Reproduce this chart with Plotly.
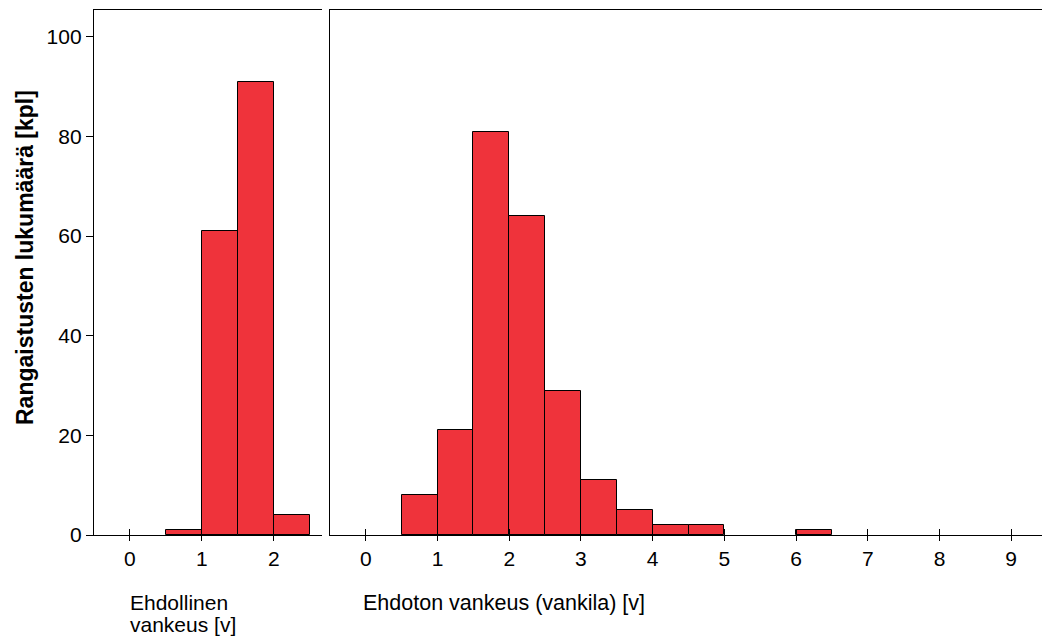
import plotly.graph_objects as go

# Data: histogram bins (left edge, years) and counts
cond_bin_left = [0.5, 1.0, 1.5, 2.0]
cond_counts = [1, 61, 91, 4]

uncond_bin_left = [0.5, 1.0, 1.5, 2.0, 2.5, 3.0, 3.5, 4.0, 4.5, 6.0]
uncond_counts = [8, 21, 81, 64, 29, 11, 5, 2, 2, 1]

bin_width = 0.5

cond_ticks = [0, 1, 2]
uncond_ticks = [0, 1, 2, 3, 4, 5, 6, 7, 8, 9]
y_ticks = [0, 20, 40, 60, 80, 100]

y_title = "Rangaistusten lukumäärä [kpl]"
cond_title_lines = ["Ehdollinen", "vankeus [v]"]
uncond_title = "Ehdoton vankeus (vankila) [v]"

W, H = 1042, 637
FONT = "Liberation Sans, Arial, sans-serif"
RED = "#EF333B"

def px_x(p):
    return p / W

def px_y(p):
    return 1 - p / H

fig = go.Figure()
fig.add_trace(go.Bar(x=cond_bin_left, y=cond_counts, width=[bin_width] * len(cond_counts),
                     offset=0, marker=dict(color=RED, line=dict(color="black", width=1)),
                     xaxis="x", yaxis="y", showlegend=False))
fig.add_trace(go.Bar(x=uncond_bin_left, y=uncond_counts, width=[bin_width] * len(uncond_counts),
                     offset=0, marker=dict(color=RED, line=dict(color="black", width=1)),
                     xaxis="x2", yaxis="y2", showlegend=False))

yr = [0, 105.4]
dom_y = [px_y(535), px_y(10)]
xr1 = [-0.5, 2.67]
xr2 = [-0.5, 9.43]
dom_x1 = [px_x(94), px_x(322)]
dom_x2 = [px_x(330), 1.0]

axis_common = dict(showgrid=False, zeroline=False, showline=True, linecolor="black",
                   linewidth=1.3, tickcolor="black", tickwidth=1.3,
                   tickfont=dict(family=FONT, size=21, color="black"))

fig.update_layout(
    width=W, height=H,
    margin=dict(l=0, r=0, t=0, b=0),
    paper_bgcolor="white", plot_bgcolor="white",
    bargap=0,
    xaxis=dict(domain=dom_x1, range=xr1, anchor="y", tickmode="array", tickvals=cond_ticks,
               ticks="outside", ticklen=5, mirror=True, automargin=False, **axis_common),
    yaxis=dict(domain=dom_y, range=yr, anchor="x", tickmode="array", tickvals=y_ticks,
               ticks="outside", ticklen=7, automargin=False, **axis_common),
    xaxis2=dict(domain=dom_x2, range=xr2, anchor="y2", tickmode="array", tickvals=uncond_ticks,
                ticks="outside", ticklen=5, mirror=True, automargin=False, **axis_common),
    yaxis2=dict(domain=dom_y, range=yr, anchor="x2", ticks="", showticklabels=False,
                automargin=False, **axis_common),
    # overlay axes that draw the inner half of the crossing x ticks
    xaxis3=dict(overlaying="x", anchor="y", range=xr1, tickmode="array", tickvals=cond_ticks,
                ticks="inside", ticklen=6, tickcolor="black", tickwidth=1.3,
                showticklabels=False, showline=False, showgrid=False, zeroline=False,
                side="bottom", automargin=False),
    xaxis4=dict(overlaying="x2", anchor="y2", range=xr2, tickmode="array", tickvals=uncond_ticks,
                ticks="inside", ticklen=6, tickcolor="black", tickwidth=1.3,
                showticklabels=False, showline=False, showgrid=False, zeroline=False,
                side="bottom", automargin=False),
)

# invisible traces so overlay axes are drawn
fig.add_trace(go.Scatter(x=[None], y=[None], xaxis="x3", yaxis="y", showlegend=False,
                         hoverinfo="skip"))
fig.add_trace(go.Scatter(x=[None], y=[None], xaxis="x4", yaxis="y2", showlegend=False,
                         hoverinfo="skip"))

fig.add_annotation(text=f"<b>{y_title}</b>", textangle=-90, xref="paper", yref="paper",
                   x=px_x(25), y=px_y(258), xanchor="center", yanchor="middle",
                   showarrow=False, font=dict(family=FONT, size=23, color="black"))
for i, line in enumerate(cond_title_lines):
    fig.add_annotation(text=line, xref="paper", yref="paper", x=px_x(128),
                       y=px_y(589 + 22 * i), xanchor="left", yanchor="top", align="left",
                       showarrow=False, font=dict(family=FONT, size=21, color="black"))
fig.add_annotation(text=uncond_title, xref="paper", yref="paper", x=px_x(361), y=px_y(589),
                   xanchor="left", yanchor="top", align="left", showarrow=False,
                   font=dict(family=FONT, size=21.5, color="black"))

fig.write_html(
    "out.html",
    config={"displayModeBar": False},
    post_script="document.body.style.margin='0';document.body.style.overflow='hidden';",
)
